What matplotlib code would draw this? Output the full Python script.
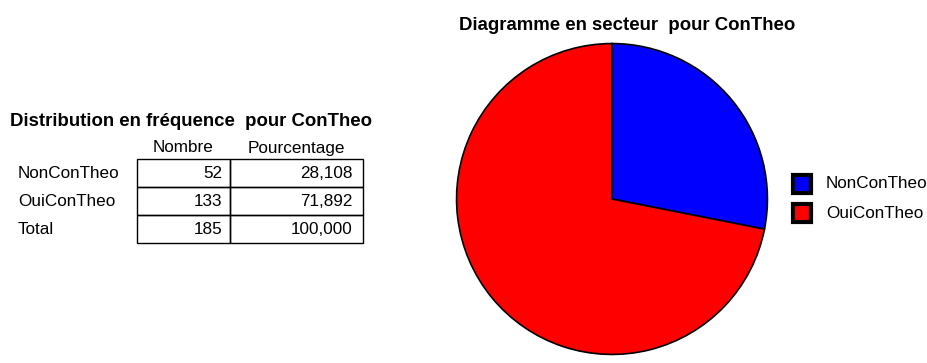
import matplotlib.pyplot as plt
from matplotlib.patches import Rectangle

plt.rcParams['font.family'] = ['Liberation Sans', 'DejaVu Sans']

# Frequence de ConTheo
categories = ["NonConTheo", "OuiConTheo"]
counts = [52, 133]
colors = ["#0000ff", "#ff0000"]

total = sum(counts)
percents = [c / total * 100 for c in counts]


def fmt_pct(v):
    return f"{v:.3f}".replace(".", ",")


W, H = 928, 363
FS = 12.3      # texte normal
FS_T = 13.4    # titres en gras

fig = plt.figure(figsize=(W / 100, H / 100), dpi=100)

# calque en pixels (origine en haut a gauche) pour le tableau et la legende
bg = fig.add_axes([0, 0, 1, 1])
bg.set_xlim(0, W)
bg.set_ylim(H, 0)
bg.axis("off")

# --- tableau de distribution ---
bg.text(10, 121, "Distribution en fréquence  pour ConTheo", fontsize=FS_T,
        fontweight="bold", va="center", ha="left")
bg.text(183, 148, "Nombre", fontsize=FS, ha="center", va="center")
bg.text(296, 148, "Pourcentage", fontsize=FS, ha="center", va="center")

x0, x1, x2 = 137, 230, 363
top, row_h = 159, 28
rows = categories + ["Total"]
nums = counts + [total]
pcts = [fmt_pct(p) for p in percents] + [fmt_pct(100)]
for i, (lab, n, p) in enumerate(zip(rows, nums, pcts)):
    yc = top + row_h * (i + 0.5)
    bg.text(18, yc, lab, fontsize=FS, va="center", ha="left")
    bg.text(x1 - 8, yc, str(n), fontsize=FS, va="center", ha="right")
    bg.text(x2 - 10, yc, p, fontsize=FS, va="center", ha="right")
    bg.add_patch(Rectangle((x0, top + row_h * i), x1 - x0, row_h,
                           fill=False, lw=1, ec="black"))
    bg.add_patch(Rectangle((x1, top + row_h * i), x2 - x1, row_h,
                           fill=False, lw=1, ec="black"))

# --- diagramme en secteur ---
bg.text(627, 25, "Diagramme en secteur  pour ConTheo", fontsize=FS_T,
        fontweight="bold", ha="center", va="center")

cx, cy, r = 612, 199, 157
ax = fig.add_axes([(cx - r) / W, (H - cy - r) / H, 2 * r / W, 2 * r / H])
ax.pie(counts, colors=colors, startangle=90, counterclock=False,
       wedgeprops=dict(edgecolor="black", linewidth=1.2))
ax.set_xlim(-1.01, 1.01)
ax.set_ylim(-1.01, 1.01)
ax.axis("off")

# legende
for i, (lab, col) in enumerate(zip(categories, colors)):
    yc = 184 + 29 * i
    bg.add_patch(Rectangle((793, yc - 9), 18, 18, fc=col, ec="black", lw=3))
    bg.text(826, yc, lab, fontsize=FS, va="center", ha="left")

fig.savefig("out.png", dpi=100)
